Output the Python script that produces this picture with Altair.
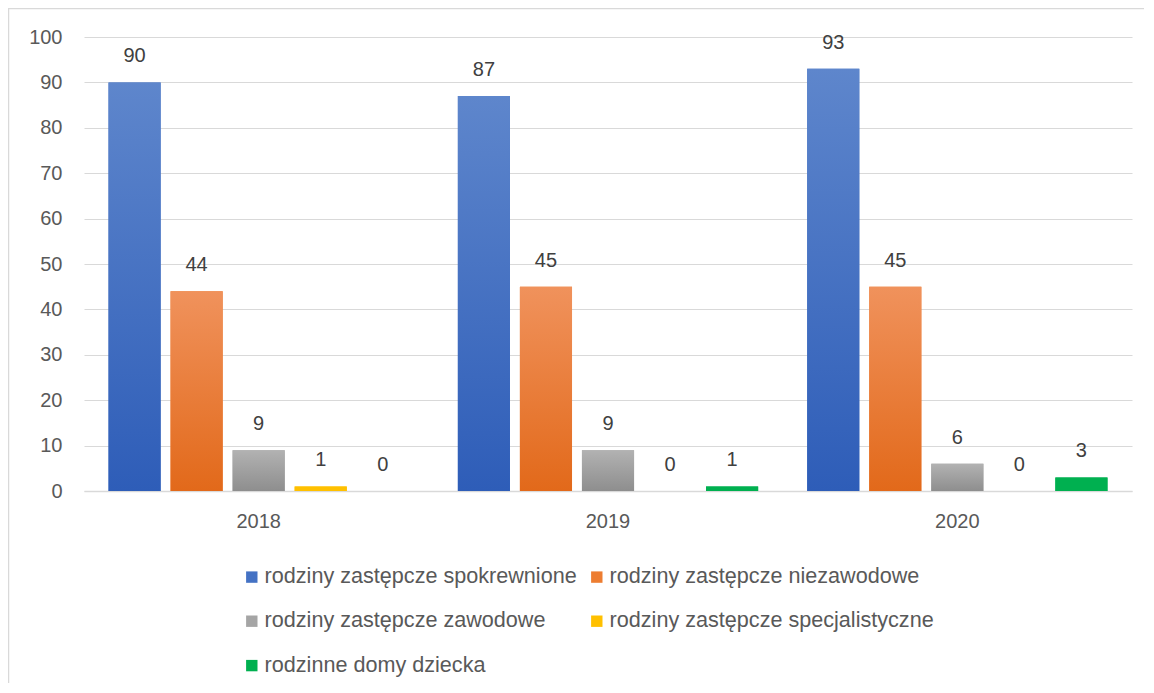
import altair as alt
import pandas as pd

years = ["2018", "2019", "2020"]
series = [
    "rodziny zastępcze spokrewnione",
    "rodziny zastępcze niezawodowe",
    "rodziny zastępcze zawodowe",
    "rodziny zastępcze specjalistyczne",
    "rodzinne domy dziecka",
]
spokrewnione = [90, 87, 93]
niezawodowe = [44, 45, 45]
zawodowe = [9, 9, 6]
specjalistyczne = [1, 0, 0]
domy_dziecka = [0, 1, 3]

solid_colors = ["#4472C4", "#ED7D31", "#A5A5A5", "#FFC000", "#00B050"]
grad_top = ["#5E86CC", "#F0925C", "#B2B2B2", "#FFC000", "#00B050"]
grad_bot = ["#2E5DB8", "#E2691A", "#8E8E8E", "#FFC000", "#00B050"]

values_by_series = [spokrewnione, niezawodowe, zawodowe, specjalistyczne, domy_dziecka]
rows = []
for s, vals in zip(series, values_by_series):
    for y, v in zip(years, vals):
        rows.append({"year": y, "series": s, "value": v})
df = pd.DataFrame(rows)

FONT = "Liberation Sans"
W, H = 1048, 454

x_enc = alt.X(
    "year:N",
    sort=years,
    scale=alt.Scale(paddingInner=0.112, paddingOuter=0.056),
    axis=alt.Axis(
        title=None, labelAngle=0, ticks=False, labelFontSize=20, labelFont=FONT,
        labelColor="#595959", labelPadding=20, domainColor="#D9D9D9", domainWidth=1.5,
        grid=False,
    ),
)
xoff_enc = alt.XOffset(
    "series:N", sort=series,
    scale=alt.Scale(domain=series, paddingInner=0.16, paddingOuter=0.08),
)
y_enc = alt.Y(
    "value:Q",
    scale=alt.Scale(domain=[0, 100], nice=False),
    axis=alt.Axis(
        title=None, values=list(range(0, 101, 10)), ticks=False, domain=False,
        labelFontSize=20, labelFont=FONT, labelColor="#595959", labelPadding=22,
        gridColor="#D9D9D9", gridWidth=1.2,
    ),
)

base = alt.Chart(df).encode(x=x_enc, xOffset=xoff_enc, y=y_enc)

legend_layer = base.mark_bar().encode(
    color=alt.Color(
        "series:N", sort=series,
        scale=alt.Scale(domain=series, range=solid_colors),
        legend=alt.Legend(
            title=None, orient="none", legendX=157, legendY=529, columns=2,
            direction="horizontal",
            symbolType="square", symbolSize=130, symbolStrokeWidth=0,
            labelFontSize=21.6, labelFont=FONT, labelColor="#595959",
            labelOffset=2, columnPadding=9, rowPadding=21.4, labelLimit=600,
            padding=0,
        ),
    )
)

grad_layers = []
for s, top, bot in zip(series, grad_top, grad_bot):
    g = alt.LinearGradient(
        gradient="linear",
        stops=[alt.GradientStop(color=top, offset=0), alt.GradientStop(color=bot, offset=1)],
        x1=0, x2=0, y1=0, y2=1,
    )
    grad_layers.append(
        base.mark_bar(fill=g).transform_filter(alt.datum.series == s)
    )

labels = base.mark_text(
    dy=-26, baseline="middle", fontSize=20, font=FONT, color="#404040"
).encode(text="value:Q")

border_df = pd.DataFrame({"k": [0]})
top_border = alt.Chart(border_df).mark_rule(color="#D9D9D9", strokeWidth=1.5).encode(
    x=alt.value(-76), x2=alt.value(W + 30), y=alt.value(-28.5)
)
left_border = alt.Chart(border_df).mark_rule(color="#D9D9D9", strokeWidth=1.5).encode(
    x=alt.value(-75.5), y=alt.value(-29), y2=alt.value(H + 210)
)

chart = alt.layer(
    legend_layer, *grad_layers, labels, top_border, left_border
).properties(
    width=W, height=H,
    autosize=alt.AutoSizeParams(type="none"),
    padding={"left": 76, "top": 29, "right": 12, "bottom": 192},
).configure_view(stroke=None)

chart.save("out.html", embed_options={"renderer": "svg", "actions": False})
